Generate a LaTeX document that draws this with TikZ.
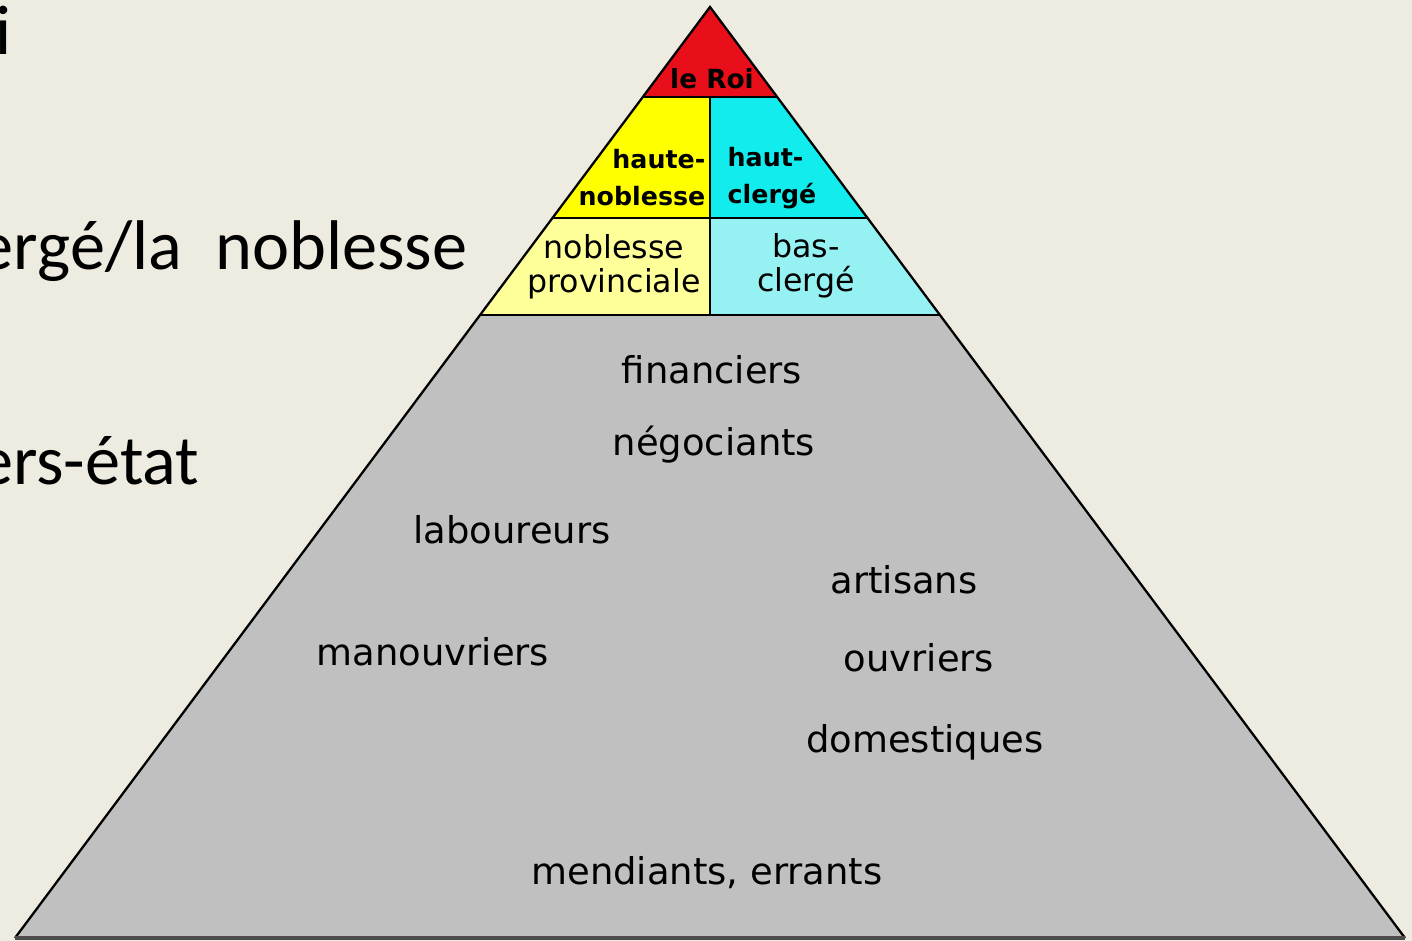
\documentclass[tikz,border=0pt]{standalone}
\usepackage{fontspec}
\setmainfont{Carlito}
\newfontfamily\etiquette{DejaVu Sans}
\usetikzlibrary{calc,positioning}
\definecolor{fond}{HTML}{EEECE1}
\definecolor{rouge}{HTML}{E80E1A}
\definecolor{jaune}{HTML}{FFFF00}
\definecolor{cyan}{HTML}{12ECEC}
\definecolor{jaunepale}{HTML}{FFFF99}
\definecolor{cyanpale}{HTML}{96F2F2}
\definecolor{gris}{HTML}{C0C0C0}
\tikzset{
  trait/.style={draw=black, line width=0.65pt},
  socle/.style={draw=black!70, line width=1.2pt},
  diapo/.style={font=\fontsize{20}{24}\selectfont, inner sep=0pt, anchor=base east},
  rang/.style={font=\etiquette\fontsize{10.5}{12}\selectfont, inner sep=0pt},
  haut/.style={font=\etiquette\bfseries\fontsize{7.2}{10.5}\selectfont, inner sep=0pt},
  bas/.style={font=\etiquette\fontsize{9}{9.7}\selectfont, inner sep=0pt, align=center},
}
\begin{document}
\begin{tikzpicture}[x=0.1mm, y=-0.1mm]
  \fill[fond] (0,0) rectangle (1412,941);
  \useasboundingbox (0,0) rectangle (1412,941);
  \clip (0,0) rectangle (1412,941);

  % texte de la diapositive
  \node[diapo] (roi) at (12,55) {i};
  \node[diapo] (ordres) at (468,270) {ergé/la\hspace{0.25em} noblesse};
  \node[diapo] (tiers) at (200,485) {ers-état};

  % pyramide
  \coordinate (sommet) at (710,7);
  \coordinate (gauche) at (15,938);
  \coordinate (droite) at (1405,938);
  \coordinate (r1g) at ($(sommet)!0.0967!(gauche)$);
  \coordinate (r1d) at ($(sommet)!0.0967!(droite)$);
  \coordinate (r2g) at ($(sommet)!0.2266!(gauche)$);
  \coordinate (r2d) at ($(sommet)!0.2266!(droite)$);
  \coordinate (r3g) at ($(sommet)!0.3308!(gauche)$);
  \coordinate (r3d) at ($(sommet)!0.3308!(droite)$);
  \coordinate (r1m) at ($(r1g)!0.5!(r1d)$);
  \coordinate (r2m) at ($(r2g)!0.5!(r2d)$);
  \coordinate (r3m) at ($(r3g)!0.5!(r3d)$);

  \fill[gris] (r3g) -- (r3d) -- (droite) -- (gauche) -- cycle;
  \fill[rouge] (sommet) -- (r1g) -- (r1d) -- cycle;
  \fill[jaune] (r1g) -- (r1m) -- (r2m) -- (r2g) -- cycle;
  \fill[cyan] (r1m) -- (r1d) -- (r2d) -- (r2m) -- cycle;
  \fill[jaunepale] (r2g) -- (r2m) -- (r3m) -- (r3g) -- cycle;
  \fill[cyanpale] (r2m) -- (r2d) -- (r3d) -- (r3m) -- cycle;

  \draw[trait] (gauche) -- (sommet) -- (droite);
  \draw[trait] (r1g) -- (r1d) (r2g) -- (r2d) (r3g) -- (r3d);
  \draw[trait, line width=0.85pt] (r1m) -- (r3m);
  \draw[socle] (gauche) -- (droite);

  % le Roi, noblesse et clergé
  \node[haut, font=\etiquette\bfseries\fontsize{7.5}{9}\selectfont] (leroi) at (712,79) {le Roi};
  \node[haut, align=right, anchor=east] (hnob) at (706,178) {haute-\\noblesse};
  \node[haut, align=left, anchor=west] (hcler) at (727,178) {haut-\\clergé};
  \node[bas] (pnob) at (614,267) {noblesse\\provinciale};
  \node[bas] (bcler) at (806,266) {bas-\\clergé};

  % tiers-état
  \node[rang] (fin) at (712,370) {financiers};
  \node[rang] (neg) at (714,445) {négociants};
  \node[rang] (lab) at (512,530) {laboureurs};
  \node[rang] (art) at (904,580) {artisans};
  \node[rang] (man) at (433,652) {manouvriers};
  \node[rang] (ouv) at (919,658) {ouvriers};
  \node[rang] (dom) at (925,742) {domestiques};
  \node[rang] (mend) at (707,873) {mendiants, errants};
\end{tikzpicture}
\end{document}
